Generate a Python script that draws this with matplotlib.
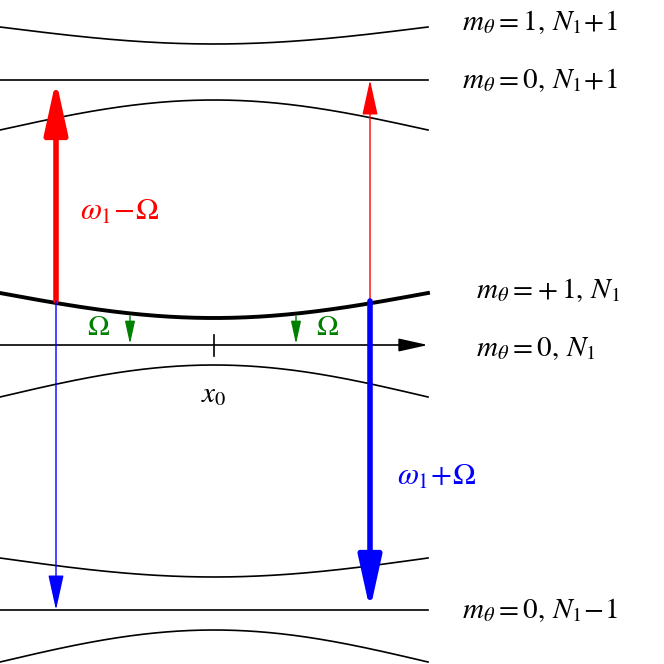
import numpy as np
import matplotlib.pyplot as plt

plt.rcParams['mathtext.fontset'] = 'stix'
plt.rcParams['font.family'] = 'STIXGeneral'

# level curves: (edge y, centre y, line width) in pixel units
level_edge = [27, 80, 130, 293, 397, 558, 610, 662]
level_mid = [44, 80, 100, 318, 365, 577, 610, 630]
level_lw = [1.2, 1.2, 1.2, 2.8, 1.2, 1.2, 1.2, 1.2]

labels = [r'$m_\theta = 1,\, N_1\!+\!1$', r'$m_\theta = 0,\, N_1\!+\!1$',
          r'$m_\theta =\!+1,\, N_1$', r'$m_\theta = 0,\, N_1$', r'$m_\theta = 0,\, N_1\!-\!1$']
label_x = [462, 462, 476, 476, 462]
label_y = [22, 80, 290, 349, 610]

x_end = 428
x0 = 214

fig = plt.figure(figsize=(6.64, 6.64), dpi=100)
ax = fig.add_axes([0, 0, 1, 1])
ax.set_xlim(0, 664)
ax.set_ylim(664, 0)
ax.axis('off')

xs = np.linspace(0, x_end, 300)
shape = np.cos(np.pi * (xs - x0) / x_end)
for e, m, lw in zip(level_edge, level_mid, level_lw):
    ax.plot(xs, e + (m - e) * shape, color='black', lw=lw)

# axis
ax.annotate('', xy=(x_end, 345), xytext=(0, 345),
            arrowprops=dict(arrowstyle='-|>,head_width=0.2,head_length=0.9', color='black',
                            lw=1.2, mutation_scale=20, shrinkA=0, shrinkB=0))
ax.plot([x0, x0], [335, 356], color='black', lw=1.2)
ax.text(x0, 396, r'$x_0$', fontsize=21, ha='center', va='center')

def arrow(x, y1, y2, c, lw, ms):
    ax.annotate('', xy=(x, y2), xytext=(x, y1),
                arrowprops=dict(arrowstyle='-|>,head_width=0.22,head_length=1.0', color=c,
                                lw=lw, mutation_scale=ms, shrinkA=0, shrinkB=0))

arrow(56, 301, 80, 'red', 4, 32)
arrow(370, 301, 80, 'red', 1, 22)
arrow(56, 301, 610, 'blue', 1, 22)
arrow(370, 301, 610, 'blue', 4, 32)
arrow(130, 316, 344, 'green', 1, 14)
arrow(296, 316, 344, 'green', 1, 14)

ax.text(98, 328, r'$\Omega$', color='green', fontsize=21, ha='center', va='center')
ax.text(327, 328, r'$\Omega$', color='green', fontsize=21, ha='center', va='center')
ax.text(80, 213, r'$\omega_1\!-\!\Omega$', color='red', fontsize=22, va='center')
ax.text(397, 478, r'$\omega_1\!+\!\Omega$', color='blue', fontsize=22, va='center')

for t, x, y in zip(labels, label_x, label_y):
    ax.text(x, y, t, fontsize=21, va='center')

fig.savefig('out.png', dpi=100)
